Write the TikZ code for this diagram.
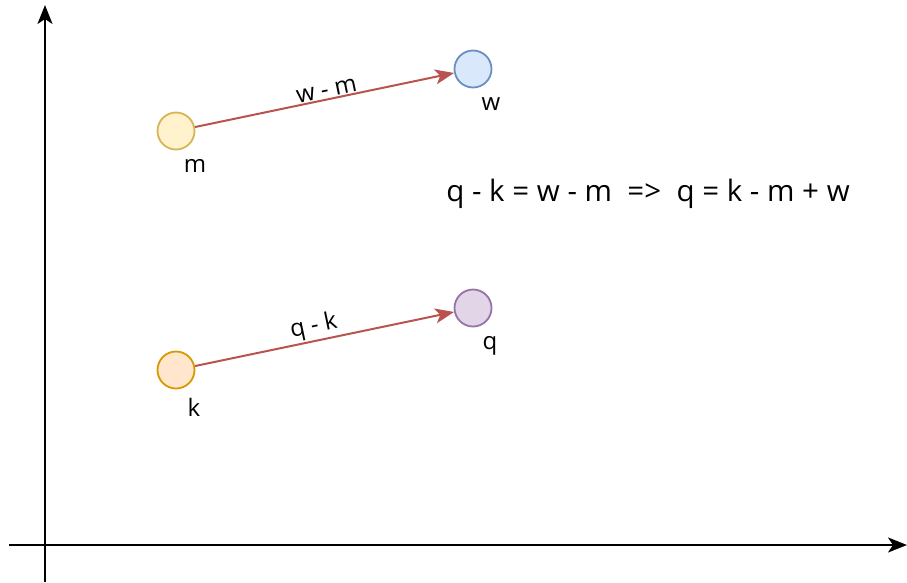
\documentclass[tikz,border=0pt]{standalone}
\usepackage{fontspec}
\setmainfont{Open Sans}
\usetikzlibrary{arrows.meta}
\definecolor{mfill}{HTML}{FFF2CC}\definecolor{mdraw}{HTML}{D6B656}
\definecolor{wfill}{HTML}{DAE8FC}\definecolor{wdraw}{HTML}{6C8EBF}
\definecolor{kfill}{HTML}{FFE6CC}\definecolor{kdraw}{HTML}{D79B00}
\definecolor{qfill}{HTML}{E1D5E7}\definecolor{qdraw}{HTML}{9673A6}
\definecolor{vec}{HTML}{B85450}
\begin{document}
\begin{tikzpicture}[x=1pt,y=-1pt,
  pt/.style={circle,minimum size=37pt,inner sep=0pt,line width=1.8pt},
  lbl/.style={font=\fontsize{24}{28}\selectfont,text=black},
  vecarrow/.style={draw=vec,line width=2pt,-{Stealth[length=19pt,width=15pt,inset=5pt]}},
  axis/.style={draw=black,line width=2pt,-{Stealth[length=19pt,width=15pt,inset=5pt]}}]
\useasboundingbox (0,0) rectangle (907,582);
\coordinate (ybot) at (45,582);
\coordinate (ytop) at (45,5);
\coordinate (xl) at (9,545);
\coordinate (xr) at (907,545);
\draw[axis] (ybot) -- (ytop);
\draw[axis] (xl) -- (xr);
\node[pt,fill=mfill,draw=mdraw] (m) at (176,131) {};
\node[pt,fill=wfill,draw=wdraw] (w) at (473,69) {};
\node[pt,fill=kfill,draw=kdraw] (k) at (176,370) {};
\node[pt,fill=qfill,draw=qdraw] (q) at (473,308) {};
\node[lbl] (ml) at (195,166) {m};
\node[lbl] (wl) at (491,104) {w};
\node[lbl] (kl) at (194,407) {k};
\node[lbl] (ql) at (490,346) {q};
\draw[vecarrow] (m) -- node[lbl,sloped,above,inner sep=1pt,xshift=4pt] (wm) {w - m} (w);
\draw[vecarrow] (k) -- node[lbl,sloped,above,inner sep=1pt,xshift=-8pt] (qk) {q - k} (q);
\node[font=\fontsize{29.5}{34}\selectfont] (eq) at (648,194) {q - k = w - m \ =>\ \ q = k - m + w};
\end{tikzpicture}
\end{document}
